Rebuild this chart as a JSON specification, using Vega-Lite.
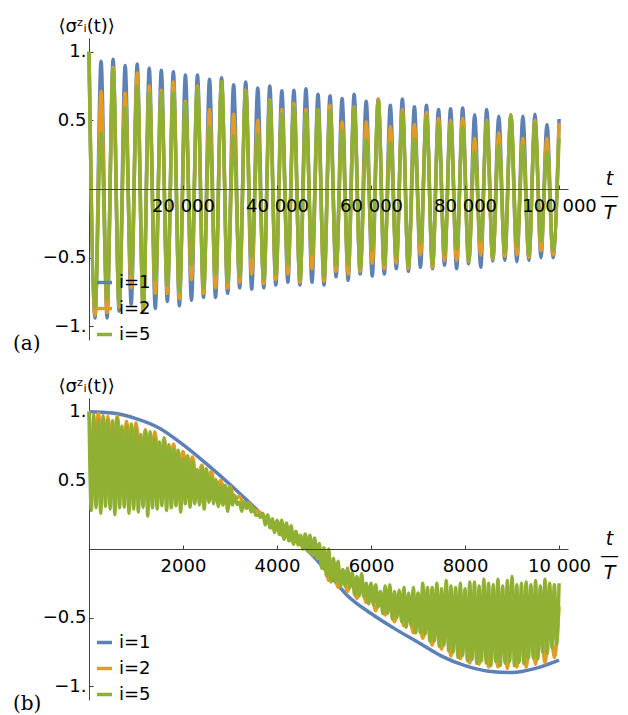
{
"$schema": "https://vega.github.io/schema/vega-lite/v6.json",
"padding": {"left": 13, "top": 17, "right": 5, "bottom": 5},
"background": "white",
"spacing": 58,
"bounds": "flush",
"resolve": {"scale": {"color": "independent"}, "legend": {"color": "independent"}},
"config": {
  "view": {"stroke": null},
  "font": "DejaVu Sans",
  "axis": {"grid": false, "domainColor": "#404040", "tickColor": "#404040", "labelFont": "DejaVu Sans", "labelFontSize": 18, "labelColor": "#000", "titleFont": "DejaVu Sans", "titleFontSize": 18, "titleFontWeight": "normal", "titleColor": "#000", "labelFlush": false, "labelOverlap": false},
  "legend": {"orient": "none", "legendX": 6, "legendY": 235, "labelFont": "DejaVu Sans", "labelFontSize": 18, "labelColor": "#000", "symbolType": "stroke", "symbolSize": 225, "symbolStrokeWidth": 3.5, "rowPadding": 7, "labelOffset": 5, "padding": 0}
},
"datasets": {
"a": [
{"t":0,"v":1,"s":"i=1"},{"t":1282,"v":-0.94,"s":"i=1"},{"t":2564,"v":0.93,"s":"i=1"},{"t":3846,"v":-0.94,"s":"i=1"},{"t":5128,"v":0.945,"s":"i=1"},{"t":6410,"v":-0.89,"s":"i=1"},{"t":7692,"v":0.9,"s":"i=1"},{"t":8974,"v":-0.84,"s":"i=1"},{"t":10256,"v":0.91,"s":"i=1"},{"t":11538,"v":-0.89,"s":"i=1"},{"t":12820,"v":0.88,"s":"i=1"},{"t":14102,"v":-0.87,"s":"i=1"},{"t":15384,"v":0.865,"s":"i=1"},{"t":16666,"v":-0.82,"s":"i=1"},{"t":17948,"v":0.855,"s":"i=1"},{"t":19230,"v":-0.85,"s":"i=1"},{"t":20512,"v":0.83,"s":"i=1"},{"t":21794,"v":-0.81,"s":"i=1"},{"t":23076,"v":0.83,"s":"i=1"},{"t":24358,"v":-0.79,"s":"i=1"},{"t":25640,"v":0.8,"s":"i=1"},{"t":26922,"v":-0.79,"s":"i=1"},{"t":28204,"v":0.81,"s":"i=1"},{"t":29486,"v":-0.76,"s":"i=1"},{"t":30768,"v":0.76,"s":"i=1"},{"t":32050,"v":-0.72,"s":"i=1"},{"t":33332,"v":0.78,"s":"i=1"},{"t":34614,"v":-0.73,"s":"i=1"},{"t":35896,"v":0.735,"s":"i=1"},{"t":37178,"v":-0.72,"s":"i=1"},{"t":38460,"v":0.75,"s":"i=1"},{"t":39742,"v":-0.7,"s":"i=1"},{"t":41024,"v":0.715,"s":"i=1"},{"t":42306,"v":-0.68,"s":"i=1"},{"t":43588,"v":0.72,"s":"i=1"},{"t":44870,"v":-0.7,"s":"i=1"},{"t":46152,"v":0.73,"s":"i=1"},{"t":47434,"v":-0.68,"s":"i=1"},{"t":48716,"v":0.69,"s":"i=1"},{"t":49998,"v":-0.7,"s":"i=1"},{"t":51280,"v":0.68,"s":"i=1"},{"t":52562,"v":-0.64,"s":"i=1"},{"t":53844,"v":0.66,"s":"i=1"},{"t":55126,"v":-0.665,"s":"i=1"},{"t":56408,"v":0.69,"s":"i=1"},{"t":57690,"v":-0.62,"s":"i=1"},{"t":58972,"v":0.64,"s":"i=1"},{"t":60254,"v":-0.635,"s":"i=1"},{"t":61536,"v":0.655,"s":"i=1"},{"t":62818,"v":-0.62,"s":"i=1"},{"t":64100,"v":0.61,"s":"i=1"},{"t":65382,"v":-0.58,"s":"i=1"},{"t":66664,"v":0.655,"s":"i=1"},{"t":67946,"v":-0.6,"s":"i=1"},{"t":69228,"v":0.6,"s":"i=1"},{"t":70510,"v":-0.57,"s":"i=1"},{"t":71792,"v":0.61,"s":"i=1"},{"t":73074,"v":-0.58,"s":"i=1"},{"t":74356,"v":0.58,"s":"i=1"},{"t":75638,"v":-0.555,"s":"i=1"},{"t":76920,"v":0.585,"s":"i=1"},{"t":78202,"v":-0.58,"s":"i=1"},{"t":79484,"v":0.59,"s":"i=1"},{"t":80766,"v":-0.545,"s":"i=1"},{"t":82048,"v":0.54,"s":"i=1"},{"t":83330,"v":-0.57,"s":"i=1"},{"t":84612,"v":0.58,"s":"i=1"},{"t":85894,"v":-0.525,"s":"i=1"},{"t":87176,"v":0.53,"s":"i=1"},{"t":88458,"v":-0.52,"s":"i=1"},{"t":89740,"v":0.535,"s":"i=1"},{"t":91022,"v":-0.53,"s":"i=1"},{"t":92304,"v":0.53,"s":"i=1"},{"t":93586,"v":-0.52,"s":"i=1"},{"t":94868,"v":0.545,"s":"i=1"},{"t":96150,"v":-0.5,"s":"i=1"},{"t":97432,"v":0.47,"s":"i=1"},{"t":98714,"v":-0.5,"s":"i=1"},{"t":100000,"v":0.51,"s":"i=1"},
{"t":0,"v":1,"s":"i=2"},{"t":1282,"v":-0.92,"s":"i=2"},{"t":2564,"v":0.71,"s":"i=2"},{"t":3846,"v":-0.9,"s":"i=2"},{"t":5128,"v":0.885,"s":"i=2"},{"t":6410,"v":-0.86,"s":"i=2"},{"t":7692,"v":0.7,"s":"i=2"},{"t":8974,"v":-0.72,"s":"i=2"},{"t":10256,"v":0.845,"s":"i=2"},{"t":11538,"v":-0.88,"s":"i=2"},{"t":12820,"v":0.75,"s":"i=2"},{"t":14102,"v":-0.76,"s":"i=2"},{"t":15384,"v":0.72,"s":"i=2"},{"t":16666,"v":-0.76,"s":"i=2"},{"t":17948,"v":0.78,"s":"i=2"},{"t":19230,"v":-0.8,"s":"i=2"},{"t":20512,"v":0.64,"s":"i=2"},{"t":21794,"v":-0.66,"s":"i=2"},{"t":23076,"v":0.75,"s":"i=2"},{"t":24358,"v":-0.76,"s":"i=2"},{"t":25640,"v":0.58,"s":"i=2"},{"t":26922,"v":-0.72,"s":"i=2"},{"t":28204,"v":0.78,"s":"i=2"},{"t":29486,"v":-0.72,"s":"i=2"},{"t":30768,"v":0.545,"s":"i=2"},{"t":32050,"v":-0.68,"s":"i=2"},{"t":33332,"v":0.72,"s":"i=2"},{"t":34614,"v":-0.62,"s":"i=2"},{"t":35896,"v":0.5,"s":"i=2"},{"t":37178,"v":-0.69,"s":"i=2"},{"t":38460,"v":0.65,"s":"i=2"},{"t":39742,"v":-0.66,"s":"i=2"},{"t":41024,"v":0.58,"s":"i=2"},{"t":42306,"v":-0.62,"s":"i=2"},{"t":43588,"v":0.625,"s":"i=2"},{"t":44870,"v":-0.68,"s":"i=2"},{"t":46152,"v":0.58,"s":"i=2"},{"t":47434,"v":-0.58,"s":"i=2"},{"t":48716,"v":0.58,"s":"i=2"},{"t":49998,"v":-0.67,"s":"i=2"},{"t":51280,"v":0.61,"s":"i=2"},{"t":52562,"v":-0.6,"s":"i=2"},{"t":53844,"v":0.49,"s":"i=2"},{"t":55126,"v":-0.62,"s":"i=2"},{"t":56408,"v":0.6,"s":"i=2"},{"t":57690,"v":-0.6,"s":"i=2"},{"t":58972,"v":0.49,"s":"i=2"},{"t":60254,"v":-0.54,"s":"i=2"},{"t":61536,"v":0.65,"s":"i=2"},{"t":62818,"v":-0.58,"s":"i=2"},{"t":64100,"v":0.455,"s":"i=2"},{"t":65382,"v":-0.54,"s":"i=2"},{"t":66664,"v":0.58,"s":"i=2"},{"t":67946,"v":-0.58,"s":"i=2"},{"t":69228,"v":0.47,"s":"i=2"},{"t":70510,"v":-0.48,"s":"i=2"},{"t":71792,"v":0.56,"s":"i=2"},{"t":73074,"v":-0.57,"s":"i=2"},{"t":74356,"v":0.515,"s":"i=2"},{"t":75638,"v":-0.52,"s":"i=2"},{"t":76920,"v":0.5,"s":"i=2"},{"t":78202,"v":-0.52,"s":"i=2"},{"t":79484,"v":0.515,"s":"i=2"},{"t":80766,"v":-0.53,"s":"i=2"},{"t":82048,"v":0.37,"s":"i=2"},{"t":83330,"v":-0.48,"s":"i=2"},{"t":84612,"v":0.5,"s":"i=2"},{"t":85894,"v":-0.51,"s":"i=2"},{"t":87176,"v":0.41,"s":"i=2"},{"t":88458,"v":-0.49,"s":"i=2"},{"t":89740,"v":0.54,"s":"i=2"},{"t":91022,"v":-0.48,"s":"i=2"},{"t":92304,"v":0.37,"s":"i=2"},{"t":93586,"v":-0.5,"s":"i=2"},{"t":94868,"v":0.5,"s":"i=2"},{"t":96150,"v":-0.45,"s":"i=2"},{"t":97432,"v":0.37,"s":"i=2"},{"t":98714,"v":-0.48,"s":"i=2"},{"t":100000,"v":0.48,"s":"i=2"},
{"t":0,"v":1,"s":"i=5"},{"t":1282,"v":-0.86,"s":"i=5"},{"t":2564,"v":0.41,"s":"i=5"},{"t":3846,"v":-0.8,"s":"i=5"},{"t":5128,"v":0.87,"s":"i=5"},{"t":6410,"v":-0.84,"s":"i=5"},{"t":7692,"v":0.59,"s":"i=5"},{"t":8974,"v":-0.62,"s":"i=5"},{"t":10256,"v":0.75,"s":"i=5"},{"t":11538,"v":-0.85,"s":"i=5"},{"t":12820,"v":0.7,"s":"i=5"},{"t":14102,"v":-0.66,"s":"i=5"},{"t":15384,"v":0.7,"s":"i=5"},{"t":16666,"v":-0.7,"s":"i=5"},{"t":17948,"v":0.7,"s":"i=5"},{"t":19230,"v":-0.75,"s":"i=5"},{"t":20512,"v":0.625,"s":"i=5"},{"t":21794,"v":-0.55,"s":"i=5"},{"t":23076,"v":0.735,"s":"i=5"},{"t":24358,"v":-0.72,"s":"i=5"},{"t":25640,"v":0.45,"s":"i=5"},{"t":26922,"v":-0.62,"s":"i=5"},{"t":28204,"v":0.78,"s":"i=5"},{"t":29486,"v":-0.68,"s":"i=5"},{"t":30768,"v":0.39,"s":"i=5"},{"t":32050,"v":-0.64,"s":"i=5"},{"t":33332,"v":0.71,"s":"i=5"},{"t":34614,"v":-0.5,"s":"i=5"},{"t":35896,"v":0.4,"s":"i=5"},{"t":37178,"v":-0.66,"s":"i=5"},{"t":38460,"v":0.64,"s":"i=5"},{"t":39742,"v":-0.62,"s":"i=5"},{"t":41024,"v":0.55,"s":"i=5"},{"t":42306,"v":-0.55,"s":"i=5"},{"t":43588,"v":0.6,"s":"i=5"},{"t":44870,"v":-0.66,"s":"i=5"},{"t":46152,"v":0.55,"s":"i=5"},{"t":47434,"v":-0.48,"s":"i=5"},{"t":48716,"v":0.58,"s":"i=5"},{"t":49998,"v":-0.64,"s":"i=5"},{"t":51280,"v":0.57,"s":"i=5"},{"t":52562,"v":-0.56,"s":"i=5"},{"t":53844,"v":0.43,"s":"i=5"},{"t":55126,"v":-0.55,"s":"i=5"},{"t":56408,"v":0.59,"s":"i=5"},{"t":57690,"v":-0.58,"s":"i=5"},{"t":58972,"v":0.36,"s":"i=5"},{"t":60254,"v":-0.45,"s":"i=5"},{"t":61536,"v":0.64,"s":"i=5"},{"t":62818,"v":-0.55,"s":"i=5"},{"t":64100,"v":0.345,"s":"i=5"},{"t":65382,"v":-0.5,"s":"i=5"},{"t":66664,"v":0.565,"s":"i=5"},{"t":67946,"v":-0.56,"s":"i=5"},{"t":69228,"v":0.37,"s":"i=5"},{"t":70510,"v":-0.4,"s":"i=5"},{"t":71792,"v":0.53,"s":"i=5"},{"t":73074,"v":-0.55,"s":"i=5"},{"t":74356,"v":0.48,"s":"i=5"},{"t":75638,"v":-0.48,"s":"i=5"},{"t":76920,"v":0.48,"s":"i=5"},{"t":78202,"v":-0.44,"s":"i=5"},{"t":79484,"v":0.455,"s":"i=5"},{"t":80766,"v":-0.52,"s":"i=5"},{"t":82048,"v":0.27,"s":"i=5"},{"t":83330,"v":-0.38,"s":"i=5"},{"t":84612,"v":0.49,"s":"i=5"},{"t":85894,"v":-0.5,"s":"i=5"},{"t":87176,"v":0.32,"s":"i=5"},{"t":88458,"v":-0.46,"s":"i=5"},{"t":89740,"v":0.54,"s":"i=5"},{"t":91022,"v":-0.42,"s":"i=5"},{"t":92304,"v":0.32,"s":"i=5"},{"t":93586,"v":-0.48,"s":"i=5"},{"t":94868,"v":0.48,"s":"i=5"},{"t":96150,"v":-0.38,"s":"i=5"},{"t":97432,"v":0.27,"s":"i=5"},{"t":98714,"v":-0.45,"s":"i=5"},{"t":100000,"v":0.37,"s":"i=5"}
],
"b": [
{"t":0,"v":1,"s":"i=1"},{"t":500,"v":0.99,"s":"i=1"},{"t":1000,"v":0.95,"s":"i=1"},{"t":1500,"v":0.88,"s":"i=1"},{"t":2000,"v":0.76,"s":"i=1"},{"t":2500,"v":0.62,"s":"i=1"},{"t":3000,"v":0.47,"s":"i=1"},{"t":3500,"v":0.31,"s":"i=1"},{"t":4000,"v":0.15,"s":"i=1"},{"t":4500,"v":0.04,"s":"i=1"},{"t":5000,"v":-0.14,"s":"i=1"},{"t":5500,"v":-0.34,"s":"i=1"},{"t":6000,"v":-0.47,"s":"i=1"},{"t":6500,"v":-0.58,"s":"i=1"},{"t":7000,"v":-0.68,"s":"i=1"},{"t":7500,"v":-0.78,"s":"i=1"},{"t":8000,"v":-0.85,"s":"i=1"},{"t":8500,"v":-0.89,"s":"i=1"},{"t":9000,"v":-0.9,"s":"i=1"},{"t":9500,"v":-0.87,"s":"i=1"},{"t":10000,"v":-0.81,"s":"i=1"},
{"t":0,"v":1,"s":"i=2"},{"t":100,"v":0.64,"s":"i=2"},{"t":200,"v":0.99,"s":"i=2"},{"t":300,"v":0.63,"s":"i=2"},{"t":400,"v":0.965,"s":"i=2"},{"t":500,"v":0.62,"s":"i=2"},{"t":600,"v":0.97,"s":"i=2"},{"t":700,"v":0.61,"s":"i=2"},{"t":800,"v":0.93,"s":"i=2"},{"t":900,"v":0.6,"s":"i=2"},{"t":1000,"v":0.92,"s":"i=2"},{"t":1100,"v":0.58,"s":"i=2"},{"t":1200,"v":0.87,"s":"i=2"},{"t":1300,"v":0.57,"s":"i=2"},{"t":1400,"v":0.855,"s":"i=2"},{"t":1500,"v":0.55,"s":"i=2"},{"t":1600,"v":0.8,"s":"i=2"},{"t":1700,"v":0.53,"s":"i=2"},{"t":1800,"v":0.765,"s":"i=2"},{"t":1900,"v":0.51,"s":"i=2"},{"t":2000,"v":0.71,"s":"i=2"},{"t":2100,"v":0.49,"s":"i=2"},{"t":2200,"v":0.67,"s":"i=2"},{"t":2300,"v":0.47,"s":"i=2"},{"t":2400,"v":0.61,"s":"i=2"},{"t":2500,"v":0.44,"s":"i=2"},{"t":2600,"v":0.565,"s":"i=2"},{"t":2700,"v":0.42,"s":"i=2"},{"t":2800,"v":0.5,"s":"i=2"},{"t":2900,"v":0.39,"s":"i=2"},{"t":3000,"v":0.455,"s":"i=2"},{"t":3100,"v":0.36,"s":"i=2"},{"t":3200,"v":0.385,"s":"i=2"},{"t":3300,"v":0.32,"s":"i=2"},{"t":3400,"v":0.335,"s":"i=2"},{"t":3500,"v":0.285,"s":"i=2"},{"t":3600,"v":0.275,"s":"i=2"},{"t":3700,"v":0.235,"s":"i=2"},{"t":3800,"v":0.23,"s":"i=2"},{"t":3900,"v":0.15,"s":"i=2"},{"t":4000,"v":0.2,"s":"i=2"},{"t":4100,"v":0.1,"s":"i=2"},{"t":4200,"v":0.17,"s":"i=2"},{"t":4300,"v":0.06,"s":"i=2"},{"t":4400,"v":0.12,"s":"i=2"},{"t":4500,"v":0.03,"s":"i=2"},{"t":4600,"v":0.08,"s":"i=2"},{"t":4700,"v":-0.02,"s":"i=2"},{"t":4800,"v":0.05,"s":"i=2"},{"t":4900,"v":-0.07,"s":"i=2"},{"t":5000,"v":-0.03,"s":"i=2"},{"t":5100,"v":-0.23,"s":"i=2"},{"t":5200,"v":-0.1,"s":"i=2"},{"t":5300,"v":-0.28,"s":"i=2"},{"t":5400,"v":-0.16,"s":"i=2"},{"t":5500,"v":-0.31,"s":"i=2"},{"t":5600,"v":-0.22,"s":"i=2"},{"t":5700,"v":-0.36,"s":"i=2"},{"t":5800,"v":-0.26,"s":"i=2"},{"t":5900,"v":-0.39,"s":"i=2"},{"t":6000,"v":-0.31,"s":"i=2"},{"t":6100,"v":-0.45,"s":"i=2"},{"t":6200,"v":-0.34,"s":"i=2"},{"t":6300,"v":-0.48,"s":"i=2"},{"t":6400,"v":-0.36,"s":"i=2"},{"t":6500,"v":-0.53,"s":"i=2"},{"t":6600,"v":-0.4,"s":"i=2"},{"t":6700,"v":-0.56,"s":"i=2"},{"t":6800,"v":-0.42,"s":"i=2"},{"t":6900,"v":-0.61,"s":"i=2"},{"t":7000,"v":-0.45,"s":"i=2"},{"t":7100,"v":-0.65,"s":"i=2"},{"t":7200,"v":-0.47,"s":"i=2"},{"t":7300,"v":-0.7,"s":"i=2"},{"t":7400,"v":-0.49,"s":"i=2"},{"t":7500,"v":-0.73,"s":"i=2"},{"t":7600,"v":-0.5,"s":"i=2"},{"t":7700,"v":-0.78,"s":"i=2"},{"t":7800,"v":-0.52,"s":"i=2"},{"t":7900,"v":-0.8,"s":"i=2"},{"t":8000,"v":-0.53,"s":"i=2"},{"t":8100,"v":-0.83,"s":"i=2"},{"t":8200,"v":-0.53,"s":"i=2"},{"t":8300,"v":-0.84,"s":"i=2"},{"t":8400,"v":-0.54,"s":"i=2"},{"t":8500,"v":-0.86,"s":"i=2"},{"t":8600,"v":-0.54,"s":"i=2"},{"t":8700,"v":-0.86,"s":"i=2"},{"t":8800,"v":-0.54,"s":"i=2"},{"t":8900,"v":-0.87,"s":"i=2"},{"t":9000,"v":-0.54,"s":"i=2"},{"t":9100,"v":-0.86,"s":"i=2"},{"t":9200,"v":-0.53,"s":"i=2"},{"t":9300,"v":-0.86,"s":"i=2"},{"t":9400,"v":-0.53,"s":"i=2"},{"t":9500,"v":-0.84,"s":"i=2"},{"t":9600,"v":-0.52,"s":"i=2"},{"t":9700,"v":-0.83,"s":"i=2"},{"t":9800,"v":-0.5,"s":"i=2"},{"t":9900,"v":-0.79,"s":"i=2"},{"t":10000,"v":-0.42,"s":"i=2"},
{"t":0,"v":1,"s":"i=5"},{"t":50,"v":0.28,"s":"i=5"},{"t":100,"v":0.98,"s":"i=5"},{"t":150,"v":0.3,"s":"i=5"},{"t":200,"v":0.94,"s":"i=5"},{"t":250,"v":0.26,"s":"i=5"},{"t":300,"v":0.97,"s":"i=5"},{"t":350,"v":0.31,"s":"i=5"},{"t":400,"v":0.935,"s":"i=5"},{"t":450,"v":0.29,"s":"i=5"},{"t":500,"v":0.935,"s":"i=5"},{"t":550,"v":0.25,"s":"i=5"},{"t":600,"v":0.955,"s":"i=5"},{"t":650,"v":0.3,"s":"i=5"},{"t":700,"v":0.895,"s":"i=5"},{"t":750,"v":0.305,"s":"i=5"},{"t":800,"v":0.895,"s":"i=5"},{"t":850,"v":0.26,"s":"i=5"},{"t":900,"v":0.91,"s":"i=5"},{"t":950,"v":0.29,"s":"i=5"},{"t":1000,"v":0.88,"s":"i=5"},{"t":1050,"v":0.27,"s":"i=5"},{"t":1100,"v":0.835,"s":"i=5"},{"t":1150,"v":0.305,"s":"i=5"},{"t":1200,"v":0.86,"s":"i=5"},{"t":1250,"v":0.24,"s":"i=5"},{"t":1300,"v":0.855,"s":"i=5"},{"t":1350,"v":0.3,"s":"i=5"},{"t":1400,"v":0.81,"s":"i=5"},{"t":1450,"v":0.29,"s":"i=5"},{"t":1500,"v":0.78,"s":"i=5"},{"t":1550,"v":0.315,"s":"i=5"},{"t":1600,"v":0.81,"s":"i=5"},{"t":1650,"v":0.28,"s":"i=5"},{"t":1700,"v":0.76,"s":"i=5"},{"t":1750,"v":0.3,"s":"i=5"},{"t":1800,"v":0.725,"s":"i=5"},{"t":1850,"v":0.315,"s":"i=5"},{"t":1900,"v":0.72,"s":"i=5"},{"t":1950,"v":0.27,"s":"i=5"},{"t":2000,"v":0.66,"s":"i=5"},{"t":2050,"v":0.33,"s":"i=5"},{"t":2100,"v":0.68,"s":"i=5"},{"t":2150,"v":0.305,"s":"i=5"},{"t":2200,"v":0.635,"s":"i=5"},{"t":2250,"v":0.33,"s":"i=5"},{"t":2300,"v":0.58,"s":"i=5"},{"t":2350,"v":0.32,"s":"i=5"},{"t":2400,"v":0.595,"s":"i=5"},{"t":2450,"v":0.29,"s":"i=5"},{"t":2500,"v":0.585,"s":"i=5"},{"t":2550,"v":0.34,"s":"i=5"},{"t":2600,"v":0.52,"s":"i=5"},{"t":2650,"v":0.33,"s":"i=5"},{"t":2700,"v":0.505,"s":"i=5"},{"t":2750,"v":0.31,"s":"i=5"},{"t":2800,"v":0.46,"s":"i=5"},{"t":2850,"v":0.32,"s":"i=5"},{"t":2900,"v":0.465,"s":"i=5"},{"t":2950,"v":0.275,"s":"i=5"},{"t":3000,"v":0.45,"s":"i=5"},{"t":3050,"v":0.32,"s":"i=5"},{"t":3100,"v":0.39,"s":"i=5"},{"t":3150,"v":0.325,"s":"i=5"},{"t":3200,"v":0.34,"s":"i=5"},{"t":3250,"v":0.275,"s":"i=5"},{"t":3300,"v":0.345,"s":"i=5"},{"t":3350,"v":0.295,"s":"i=5"},{"t":3400,"v":0.335,"s":"i=5"},{"t":3450,"v":0.27,"s":"i=5"},{"t":3500,"v":0.3,"s":"i=5"},{"t":3550,"v":0.245,"s":"i=5"},{"t":3600,"v":0.25,"s":"i=5"},{"t":3650,"v":0.23,"s":"i=5"},{"t":3700,"v":0.26,"s":"i=5"},{"t":3750,"v":0.175,"s":"i=5"},{"t":3800,"v":0.25,"s":"i=5"},{"t":3850,"v":0.155,"s":"i=5"},{"t":3900,"v":0.22,"s":"i=5"},{"t":3950,"v":0.12,"s":"i=5"},{"t":4000,"v":0.21,"s":"i=5"},{"t":4050,"v":0.105,"s":"i=5"},{"t":4100,"v":0.21,"s":"i=5"},{"t":4150,"v":0.07,"s":"i=5"},{"t":4200,"v":0.19,"s":"i=5"},{"t":4250,"v":0.06,"s":"i=5"},{"t":4300,"v":0.17,"s":"i=5"},{"t":4350,"v":0.035,"s":"i=5"},{"t":4400,"v":0.13,"s":"i=5"},{"t":4450,"v":0.03,"s":"i=5"},{"t":4500,"v":0.1,"s":"i=5"},{"t":4550,"v":0,"s":"i=5"},{"t":4600,"v":0.11,"s":"i=5"},{"t":4650,"v":-0.015,"s":"i=5"},{"t":4700,"v":0.1,"s":"i=5"},{"t":4750,"v":-0.05,"s":"i=5"},{"t":4800,"v":0.08,"s":"i=5"},{"t":4850,"v":-0.07,"s":"i=5"},{"t":4900,"v":0.04,"s":"i=5"},{"t":4950,"v":-0.14,"s":"i=5"},{"t":5000,"v":0.01,"s":"i=5"},{"t":5050,"v":-0.195,"s":"i=5"},{"t":5100,"v":0,"s":"i=5"},{"t":5150,"v":-0.24,"s":"i=5"},{"t":5200,"v":-0.07,"s":"i=5"},{"t":5250,"v":-0.235,"s":"i=5"},{"t":5300,"v":-0.09,"s":"i=5"},{"t":5350,"v":-0.275,"s":"i=5"},{"t":5400,"v":-0.15,"s":"i=5"},{"t":5450,"v":-0.27,"s":"i=5"},{"t":5500,"v":-0.14,"s":"i=5"},{"t":5550,"v":-0.28,"s":"i=5"},{"t":5600,"v":-0.17,"s":"i=5"},{"t":5650,"v":-0.335,"s":"i=5"},{"t":5700,"v":-0.2,"s":"i=5"},{"t":5750,"v":-0.34,"s":"i=5"},{"t":5800,"v":-0.18,"s":"i=5"},{"t":5850,"v":-0.35,"s":"i=5"},{"t":5900,"v":-0.25,"s":"i=5"},{"t":5950,"v":-0.4,"s":"i=5"},{"t":6000,"v":-0.25,"s":"i=5"},{"t":6050,"v":-0.405,"s":"i=5"},{"t":6100,"v":-0.26,"s":"i=5"},{"t":6150,"v":-0.42,"s":"i=5"},{"t":6200,"v":-0.31,"s":"i=5"},{"t":6250,"v":-0.47,"s":"i=5"},{"t":6300,"v":-0.27,"s":"i=5"},{"t":6350,"v":-0.47,"s":"i=5"},{"t":6400,"v":-0.26,"s":"i=5"},{"t":6450,"v":-0.51,"s":"i=5"},{"t":6500,"v":-0.31,"s":"i=5"},{"t":6550,"v":-0.5,"s":"i=5"},{"t":6600,"v":-0.3,"s":"i=5"},{"t":6650,"v":-0.53,"s":"i=5"},{"t":6700,"v":-0.28,"s":"i=5"},{"t":6750,"v":-0.57,"s":"i=5"},{"t":6800,"v":-0.32,"s":"i=5"},{"t":6850,"v":-0.56,"s":"i=5"},{"t":6900,"v":-0.28,"s":"i=5"},{"t":6950,"v":-0.61,"s":"i=5"},{"t":7000,"v":-0.32,"s":"i=5"},{"t":7050,"v":-0.61,"s":"i=5"},{"t":7100,"v":-0.25,"s":"i=5"},{"t":7150,"v":-0.62,"s":"i=5"},{"t":7200,"v":-0.28,"s":"i=5"},{"t":7250,"v":-0.67,"s":"i=5"},{"t":7300,"v":-0.28,"s":"i=5"},{"t":7350,"v":-0.67,"s":"i=5"},{"t":7400,"v":-0.25,"s":"i=5"},{"t":7450,"v":-0.71,"s":"i=5"},{"t":7500,"v":-0.29,"s":"i=5"},{"t":7550,"v":-0.7,"s":"i=5"},{"t":7600,"v":-0.23,"s":"i=5"},{"t":7650,"v":-0.74,"s":"i=5"},{"t":7700,"v":-0.27,"s":"i=5"},{"t":7750,"v":-0.75,"s":"i=5"},{"t":7800,"v":-0.28,"s":"i=5"},{"t":7850,"v":-0.79,"s":"i=5"},{"t":7900,"v":-0.25,"s":"i=5"},{"t":7950,"v":-0.775,"s":"i=5"},{"t":8000,"v":-0.29,"s":"i=5"},{"t":8050,"v":-0.815,"s":"i=5"},{"t":8100,"v":-0.24,"s":"i=5"},{"t":8150,"v":-0.805,"s":"i=5"},{"t":8200,"v":-0.24,"s":"i=5"},{"t":8250,"v":-0.835,"s":"i=5"},{"t":8300,"v":-0.27,"s":"i=5"},{"t":8350,"v":-0.815,"s":"i=5"},{"t":8400,"v":-0.22,"s":"i=5"},{"t":8450,"v":-0.83,"s":"i=5"},{"t":8500,"v":-0.25,"s":"i=5"},{"t":8550,"v":-0.85,"s":"i=5"},{"t":8600,"v":-0.26,"s":"i=5"},{"t":8650,"v":-0.82,"s":"i=5"},{"t":8700,"v":-0.22,"s":"i=5"},{"t":8750,"v":-0.85,"s":"i=5"},{"t":8800,"v":-0.27,"s":"i=5"},{"t":8850,"v":-0.83,"s":"i=5"},{"t":8900,"v":-0.23,"s":"i=5"},{"t":8950,"v":-0.82,"s":"i=5"},{"t":9000,"v":-0.2,"s":"i=5"},{"t":9050,"v":-0.85,"s":"i=5"},{"t":9100,"v":-0.26,"s":"i=5"},{"t":9150,"v":-0.825,"s":"i=5"},{"t":9200,"v":-0.25,"s":"i=5"},{"t":9250,"v":-0.835,"s":"i=5"},{"t":9300,"v":-0.24,"s":"i=5"},{"t":9350,"v":-0.795,"s":"i=5"},{"t":9400,"v":-0.26,"s":"i=5"},{"t":9450,"v":-0.795,"s":"i=5"},{"t":9500,"v":-0.23,"s":"i=5"},{"t":9550,"v":-0.8,"s":"i=5"},{"t":9600,"v":-0.27,"s":"i=5"},{"t":9650,"v":-0.75,"s":"i=5"},{"t":9700,"v":-0.22,"s":"i=5"},{"t":9750,"v":-0.76,"s":"i=5"},{"t":9800,"v":-0.25,"s":"i=5"},{"t":9850,"v":-0.72,"s":"i=5"},{"t":9900,"v":-0.26,"s":"i=5"},{"t":9950,"v":-0.695,"s":"i=5"},{"t":10000,"v":-0.25,"s":"i=5"}
]
},
"vconcat": [
{
  "width": 479, "height": 302,
  "data": {"name": "a"},
  "title": {"text": "(a)", "orient": "bottom", "anchor": "start", "frame": "group", "offset": 0, "dx": -76, "baseline": "middle", "font": "DejaVu Serif", "fontSize": 20, "fontWeight": "normal", "color": "#000"},
  "mark": {"type": "line", "strokeWidth": 3.5, "interpolate": "monotone"},
  "encoding": {
    "x": {"field": "t", "type": "quantitative", "scale": {"domain": [0, 101900], "nice": false, "zero": false},
      "axis": {"zindex": 1, "values": [20000, 40000, 60000, 80000, 100000], "labelExpr": "datum.value >= 10000 ? replace(format(datum.value, ','), ',', ' ') : format(datum.value, 'd')", "offset": -151, "tickSize": -4, "labelPadding": 12,
        "title": ["t", "\u2014", "T"], "titleFontStyle": "italic", "titleFontSize": 19, "titleLineHeight": 17, "titleX": 520, "titleY": -11, "titleBaseline": "middle", "titleAlign": "center", "titleAngle": 0}},
    "y": {"field": "v", "type": "quantitative", "scale": {"domain": [-1.1, 1.1], "nice": false},
      "axis": {"values": [-1, -0.5, 0.5, 1], "labelExpr": "datum.value == 1 ? '1.' : datum.value == -1 ? '\u22121.' : datum.value > 0 ? '0.5' : '\u22120.5'", "tickSize": -4, "labelPadding": 7,
        "title": "\u27e8\u03c3\u1dbb\u1d62(t)\u27e9", "titleAngle": 0, "titleAlign": "left", "titleBaseline": "alphabetic", "titleX": -31, "titleY": -7}},
    "color": {"field": "s", "type": "nominal", "scale": {"domain": ["i=1", "i=2", "i=5"], "range": ["#5E81B5", "#E19C24", "#8FB032"]}, "legend": {"title": null}}
  }
},
{
  "width": 479, "height": 302,
  "data": {"name": "b"},
  "title": {"text": "(b)", "orient": "bottom", "anchor": "start", "frame": "group", "offset": 0, "dx": -76, "baseline": "middle", "font": "DejaVu Serif", "fontSize": 20, "fontWeight": "normal", "color": "#000"},
  "mark": {"type": "line", "strokeWidth": 3.5, "interpolate": "monotone"},
  "encoding": {
    "x": {"field": "t", "type": "quantitative", "scale": {"domain": [0, 10190], "nice": false, "zero": false},
      "axis": {"zindex": 1, "values": [2000, 4000, 6000, 8000, 10000], "labelExpr": "datum.value >= 10000 ? replace(format(datum.value, ','), ',', ' ') : format(datum.value, 'd')", "offset": -151, "tickSize": -4, "labelPadding": 12,
        "title": ["t", "\u2014", "T"], "titleFontStyle": "italic", "titleFontSize": 19, "titleLineHeight": 17, "titleX": 520, "titleY": -11, "titleBaseline": "middle", "titleAlign": "center", "titleAngle": 0}},
    "y": {"field": "v", "type": "quantitative", "scale": {"domain": [-1.1, 1.1], "nice": false},
      "axis": {"values": [-1, -0.5, 0.5, 1], "labelExpr": "datum.value == 1 ? '1.' : datum.value == -1 ? '\u22121.' : datum.value > 0 ? '0.5' : '\u22120.5'", "tickSize": -4, "labelPadding": 7,
        "title": "\u27e8\u03c3\u1dbb\u1d62(t)\u27e9", "titleAngle": 0, "titleAlign": "left", "titleBaseline": "alphabetic", "titleX": -31, "titleY": -7}},
    "color": {"field": "s", "type": "nominal", "scale": {"domain": ["i=1", "i=2", "i=5"], "range": ["#5E81B5", "#E19C24", "#8FB032"]}, "legend": {"title": null}}
  }
}
]
}
